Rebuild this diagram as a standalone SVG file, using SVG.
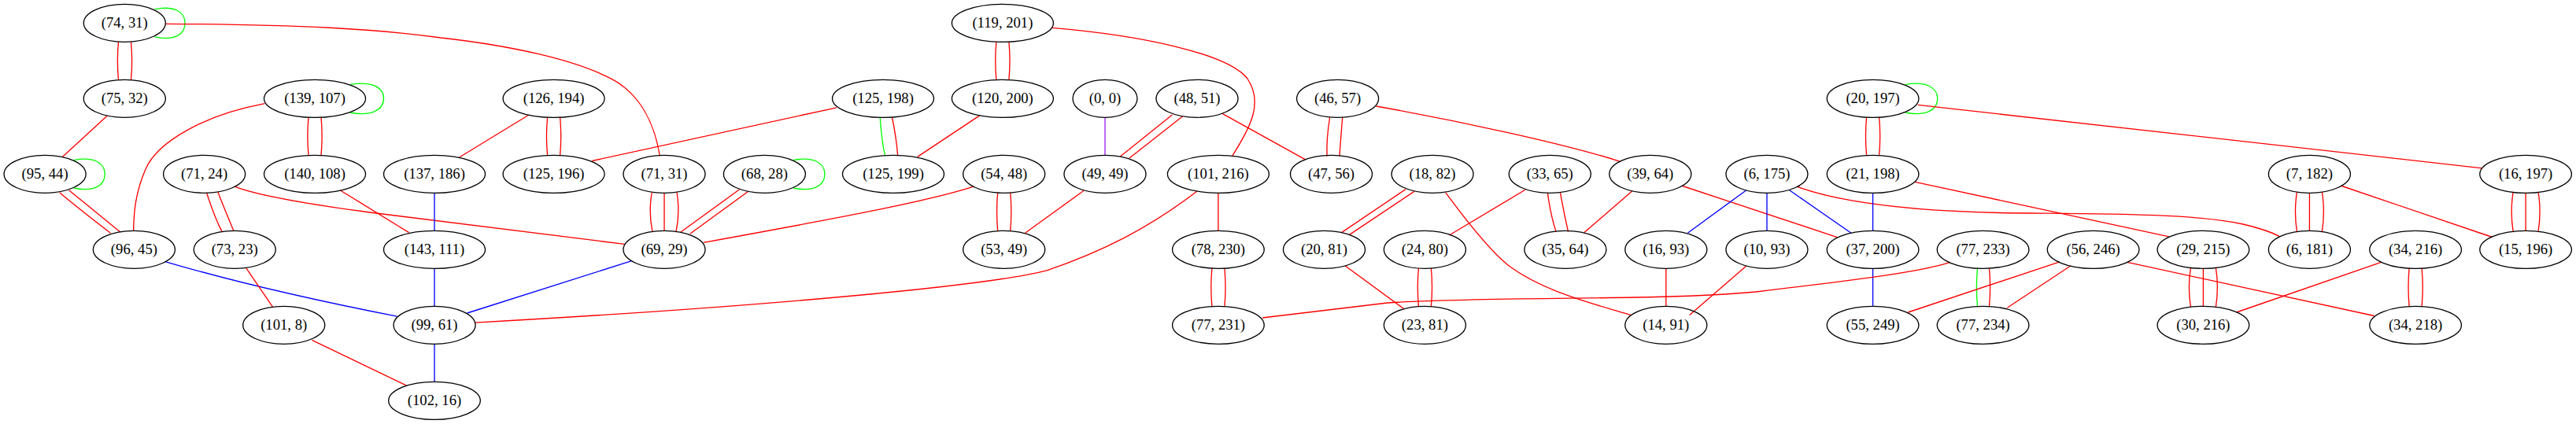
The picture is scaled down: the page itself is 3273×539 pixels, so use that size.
<svg xmlns="http://www.w3.org/2000/svg" width="3273" height="539" viewBox="0 0 3273 539">
<style>
.n ellipse{fill:none;stroke:#000;stroke-width:1.33}
.n text{font-family:"Liberation Serif","Times New Roman",serif;font-size:18.67px;text-anchor:middle;fill:#000}
#edges path{fill:none;stroke-width:1.33}
.r{stroke:#ff0000}.g{stroke:#00ff00}.b{stroke:#0000ff}.p{stroke:#a020f0}
</style>
<rect width="3273" height="539" fill="#fff"/>
<g id="edges">
<!-- self loops -->
<path class="g" d="M196.7,11.7 C220,7 235,14 235,29.3 C235,45 220,52 196.7,46.9"/>
<path class="g" d="M444.6,107.6 C470,103 487.5,110 487.5,125.3 C487.5,141 470,148 444.6,143"/>
<path class="g" d="M93.6,203.6 C118,199 133.2,206 133.2,221.3 C133.2,237 118,244 93.6,239"/>
<path class="g" d="M1007.9,203.6 C1032,199 1047.9,206 1047.9,221.3 C1047.9,237 1032,244 1007.9,239"/>
<path class="g" d="M2420.7,107.6 C2445,103 2461.8,110 2461.8,125.3 C2461.8,141 2445,148 2420.7,143"/>
<!-- vertical doubles -->
<path class="r" d="M150.5,53 C149,69 149,85 150.5,101.6"/>
<path class="r" d="M166.5,53 C168,69 168,85 166.5,101.6"/>
<path class="r" d="M392,149 C390.5,165 390.5,181 392,197.6"/>
<path class="r" d="M408,149 C409.5,165 409.5,181 408,197.6"/>
<path class="r" d="M695.6,149 C694.1,165 694.1,181 695.6,197.6"/>
<path class="r" d="M711.6,149 C713.1,165 713.1,181 711.6,197.6"/>
<path class="r" d="M1265.9,53 C1264.4,69 1264.4,85 1265.9,101.6"/>
<path class="r" d="M1281.9,53 C1283.4,69 1283.4,85 1281.9,101.6"/>
<path class="r" d="M1267.7,245 C1266.2,261 1266.2,277 1267.7,293.6"/>
<path class="r" d="M1283.7,245 C1285.2,261 1285.2,277 1283.7,293.6"/>
<path class="r" d="M1539.9,341 C1538.4,357 1538.4,373 1539.9,389.6"/>
<path class="r" d="M1555.9,341 C1557.4,357 1557.4,373 1555.9,389.6"/>
<path class="r" d="M1802.4,341 C1800.9,357 1800.9,373 1802.4,389.6"/>
<path class="r" d="M1818.4,341 C1819.9,357 1819.9,373 1818.4,389.6"/>
<path class="r" d="M2371.6,149 C2370.1,165 2370.1,181 2371.6,197.6"/>
<path class="r" d="M2387.6,149 C2389.1,165 2389.1,181 2387.6,197.6"/>
<path class="r" d="M3061.1,341 C3059.6,357 3059.6,373 3061.1,389.6"/>
<path class="r" d="M3077.1,341 C3078.6,357 3078.6,373 3077.1,389.6"/>
<path class="r" d="M1689.6,149.5 C1687,165 1685.5,182 1686,198.4"/>
<path class="r" d="M1705.7,149.5 C1704.5,165 1703,182 1702,198.4"/>
<!-- triples -->
<path class="r" d="M828.3,244.5 C825.5,260 825.5,278 829,294.5"/>
<path class="r" d="M844,245.3 L844,293.3"/>
<path class="r" d="M860,244.5 C862.5,260 862.5,278 859,294.5"/>
<path class="r" d="M2918.4,244.2 C2915.9,260 2915.9,278 2918.4,294.4"/>
<path class="r" d="M2934.4,245.3 L2934.4,293.3"/>
<path class="r" d="M2950.4,244.2 C2952.9,260 2952.9,278 2950.4,294.4"/>
<path class="r" d="M3193.1,244.4 C3190.6,260 3190.6,278 3193.1,294.2"/>
<path class="r" d="M3209.1,245.3 L3209.1,293.3"/>
<path class="r" d="M3225.1,244.4 C3227.6,260 3227.6,278 3225.1,294.2"/>
<path class="r" d="M2783.4,340.4 C2780.9,356 2780.9,374 2783.4,390.2"/>
<path class="r" d="M2799.4,341.3 L2799.4,389.3"/>
<path class="r" d="M2815.4,340.4 C2817.9,356 2817.9,374 2815.4,390.2"/>
<!-- diagonal doubles -->
<path class="r" d="M75.7,244.8 C96,262 118,279 140.4,296.3"/>
<path class="r" d="M87.5,241.7 C109,259 131,277 152.9,295"/>
<path class="r" d="M262.5,245 C268,262 274,279 282.1,294.6"/>
<path class="r" d="M276.8,244 C283,260 290,277 297.1,293.9"/>
<path class="r" d="M939.3,241 L865,295"/>
<path class="r" d="M950.7,243.3 L876.7,297.3"/>
<path class="r" d="M1489.3,146 L1423.3,199"/>
<path class="r" d="M1502.7,147.7 L1435,201"/>
<path class="r" d="M1786,240.6 L1704.6,295.6"/>
<path class="r" d="M1796.8,243.4 L1714.6,298.4"/>
<path class="r" d="M1966.4,245.1 C1968.5,262 1972,279 1977.1,294.6"/>
<path class="r" d="M1982.5,245.1 C1985.5,262 1989,279 1992.5,294.6"/>
<!-- mixed pairs -->
<path class="g" d="M1118.2,149.5 C1119.5,167 1121,184 1124.6,197.7"/>
<path class="r" d="M1133.6,149.5 C1137,166 1139.5,183 1140.7,197.7"/>
<path class="g" d="M2512.5,341.2 C2511,357 2511,373 2512.5,389.5"/>
<path class="r" d="M2527.5,341.2 C2529,357 2529,373 2527.5,389.5"/>
<!-- singles -->
<path class="r" d="M210.7,30.3 C380,31 480,37 560,48 C650,58 730,76 775.7,99.7 C815,120 832,160 838.2,197.7"/>
<path class="r" d="M136.4,147 L79.3,199.4"/>
<path class="r" d="M336.4,131.7 C260,146 200,180 185,215 C172,245 170,270 169.6,292.9"/>
<path class="r" d="M298.2,237.2 C325,248 380,258 470,270 L793.6,310.4"/>
<path class="r" d="M432,241.7 L519.6,295.6"/>
<path class="b" d="M552,245.3 L552,293.3"/>
<path class="r" d="M672,146 L583.6,200"/>
<path class="r" d="M1063,136.8 L752.5,204.5"/>
<path class="r" d="M1244.3,147.1 L1165.7,199.4"/>
<path class="r" d="M1337,35.4 C1450,45 1560,68 1585,100 C1605,130 1590,160 1565.7,198.3"/>
<path class="p" d="M1404,149.3 L1404,197.3"/>
<path class="r" d="M1553,144.4 L1658.6,202.8"/>
<path class="r" d="M1237,237.2 C1180,256 1050,280 893.6,308.4"/>
<path class="r" d="M1377.1,242.3 L1302.5,296.3"/>
<path class="b" d="M802.5,331.7 L593.6,398"/>
<path class="b" d="M210.7,332.8 Q330,368 504.3,402.2"/>
<path class="b" d="M552,341.3 L552,389.3"/>
<path class="b" d="M552,437.3 L552,485.3"/>
<path class="r" d="M312.5,340.3 L346.4,390.2"/>
<path class="r" d="M396.4,432.4 L516,489.8"/>
<path class="r" d="M1521,243 C1460,290 1400,320 1330,343.8 C1260,362 1000,388 603.6,410.1"/>
<path class="r" d="M1547.9,245.3 L1547.9,293.3"/>
<path class="r" d="M1748.6,135 C1850,153 1990,183 2059.3,205.6"/>
<path class="r" d="M1836.8,244.8 C1870,290 1895,320 1916,337 C1960,370 2020,385 2071.8,400.5"/>
<path class="r" d="M1937.9,241.3 L1841.4,299"/>
<path class="r" d="M2073.6,243 L2012.9,295.6"/>
<path class="r" d="M2137.9,236.5 L2335,301.8"/>
<path class="r" d="M1709.3,338 L1784.3,393"/>
<path class="b" d="M2218.9,241.7 L2144.3,296.3"/>
<path class="b" d="M2245,245.3 L2245,293.3"/>
<path class="b" d="M2273.6,241.7 L2352,296.3"/>
<path class="r" d="M2283.2,237.2 C2340,258 2430,268 2540,270.5 C2650,272 2780,270 2850,285 Q2880,292 2897,300.8"/>
<path class="r" d="M2116.8,341.3 L2116.8,389.3"/>
<path class="r" d="M2218.9,338 L2146.8,400.5"/>
<path class="r" d="M2436.8,133.4 L3154,213.8"/>
<path class="b" d="M2379.6,245.3 L2379.6,293.3"/>
<path class="r" d="M2433.2,231.4 L2755.9,300.8"/>
<path class="b" d="M2379.6,341.3 L2379.6,389.3"/>
<path class="r" d="M2477.9,333.4 C2440,346 2350,357 2231,371 C2100,383 1900,376 1763,385 L1604,404"/>
<path class="r" d="M2617,332.8 L2424.3,397"/>
<path class="r" d="M2630.7,338 L2550.4,391.2"/>
<path class="r" d="M2702.9,333.4 L3016.6,401.5"/>
<path class="r" d="M2975.5,236.5 L3166.6,301.5"/>
<path class="r" d="M3025.5,333.4 L2841.6,397"/>
</g>
<g id="n74_31" class="n"><ellipse cx="158.3" cy="29.3" rx="52" ry="24"/><text x="158.3" y="34.6">(74, 31)</text></g>
<g id="n119_201" class="n"><ellipse cx="1273.9" cy="29.3" rx="64.5" ry="24"/><text x="1273.9" y="34.6">(119, 201)</text></g>
<g id="n75_32" class="n"><ellipse cx="158.3" cy="125.3" rx="52" ry="24"/><text x="158.3" y="130.6">(75, 32)</text></g>
<g id="n139_107" class="n"><ellipse cx="400" cy="125.3" rx="64.5" ry="24"/><text x="400" y="130.6">(139, 107)</text></g>
<g id="n126_194" class="n"><ellipse cx="703.6" cy="125.3" rx="64.5" ry="24"/><text x="703.6" y="130.6">(126, 194)</text></g>
<g id="n125_198" class="n"><ellipse cx="1122" cy="125.3" rx="64.5" ry="24"/><text x="1122" y="130.6">(125, 198)</text></g>
<g id="n120_200" class="n"><ellipse cx="1273.9" cy="125.3" rx="64.5" ry="24"/><text x="1273.9" y="130.6">(120, 200)</text></g>
<g id="n0_0" class="n"><ellipse cx="1404" cy="125.3" rx="41" ry="24"/><text x="1404" y="130.6">(0, 0)</text></g>
<g id="n48_51" class="n"><ellipse cx="1521" cy="125.3" rx="52" ry="24"/><text x="1521" y="130.6">(48, 51)</text></g>
<g id="n46_57" class="n"><ellipse cx="1699.6" cy="125.3" rx="52" ry="24"/><text x="1699.6" y="130.6">(46, 57)</text></g>
<g id="n20_197" class="n"><ellipse cx="2379.6" cy="125.3" rx="58.3" ry="24"/><text x="2379.6" y="130.6">(20, 197)</text></g>
<g id="n95_44" class="n"><ellipse cx="57.1" cy="221.3" rx="52" ry="24"/><text x="57.1" y="226.6">(95, 44)</text></g>
<g id="n71_24" class="n"><ellipse cx="259.6" cy="221.3" rx="52" ry="24"/><text x="259.6" y="226.6">(71, 24)</text></g>
<g id="n140_108" class="n"><ellipse cx="400" cy="221.3" rx="64.5" ry="24"/><text x="400" y="226.6">(140, 108)</text></g>
<g id="n137_186" class="n"><ellipse cx="552" cy="221.3" rx="64.5" ry="24"/><text x="552" y="226.6">(137, 186)</text></g>
<g id="n125_196" class="n"><ellipse cx="703.6" cy="221.3" rx="64.5" ry="24"/><text x="703.6" y="226.6">(125, 196)</text></g>
<g id="n71_31" class="n"><ellipse cx="844" cy="221.3" rx="52" ry="24"/><text x="844" y="226.6">(71, 31)</text></g>
<g id="n68_28" class="n"><ellipse cx="971.4" cy="221.3" rx="52" ry="24"/><text x="971.4" y="226.6">(68, 28)</text></g>
<g id="n125_199" class="n"><ellipse cx="1135" cy="221.3" rx="64.5" ry="24"/><text x="1135" y="226.6">(125, 199)</text></g>
<g id="n54_48" class="n"><ellipse cx="1275.7" cy="221.3" rx="52" ry="24"/><text x="1275.7" y="226.6">(54, 48)</text></g>
<g id="n49_49" class="n"><ellipse cx="1404" cy="221.3" rx="52" ry="24"/><text x="1404" y="226.6">(49, 49)</text></g>
<g id="n101_216" class="n"><ellipse cx="1547.9" cy="221.3" rx="64.5" ry="24"/><text x="1547.9" y="226.6">(101, 216)</text></g>
<g id="n47_56" class="n"><ellipse cx="1691.5" cy="221.3" rx="52" ry="24"/><text x="1691.5" y="226.6">(47, 56)</text></g>
<g id="n18_82" class="n"><ellipse cx="1820" cy="221.3" rx="52" ry="24"/><text x="1820" y="226.6">(18, 82)</text></g>
<g id="n33_65" class="n"><ellipse cx="1969.3" cy="221.3" rx="52" ry="24"/><text x="1969.3" y="226.6">(33, 65)</text></g>
<g id="n39_64" class="n"><ellipse cx="2096.8" cy="221.3" rx="52" ry="24"/><text x="2096.8" y="226.6">(39, 64)</text></g>
<g id="n6_175" class="n"><ellipse cx="2245" cy="221.3" rx="52" ry="24"/><text x="2245" y="226.6">(6, 175)</text></g>
<g id="n21_198" class="n"><ellipse cx="2379.6" cy="221.3" rx="58.3" ry="24"/><text x="2379.6" y="226.6">(21, 198)</text></g>
<g id="n7_182" class="n"><ellipse cx="2934.4" cy="221.3" rx="52" ry="24"/><text x="2934.4" y="226.6">(7, 182)</text></g>
<g id="n16_197" class="n"><ellipse cx="3209.1" cy="221.3" rx="58.3" ry="24"/><text x="3209.1" y="226.6">(16, 197)</text></g>
<g id="n96_45" class="n"><ellipse cx="170.4" cy="317.3" rx="52" ry="24"/><text x="170.4" y="322.6">(96, 45)</text></g>
<g id="n73_23" class="n"><ellipse cx="298.2" cy="317.3" rx="52" ry="24"/><text x="298.2" y="322.6">(73, 23)</text></g>
<g id="n143_111" class="n"><ellipse cx="552" cy="317.3" rx="64.5" ry="24"/><text x="552" y="322.6">(143, 111)</text></g>
<g id="n69_29" class="n"><ellipse cx="844" cy="317.3" rx="52" ry="24"/><text x="844" y="322.6">(69, 29)</text></g>
<g id="n53_49" class="n"><ellipse cx="1275.7" cy="317.3" rx="52" ry="24"/><text x="1275.7" y="322.6">(53, 49)</text></g>
<g id="n78_230" class="n"><ellipse cx="1547.9" cy="317.3" rx="58.3" ry="24"/><text x="1547.9" y="322.6">(78, 230)</text></g>
<g id="n20_81" class="n"><ellipse cx="1682.5" cy="317.3" rx="52" ry="24"/><text x="1682.5" y="322.6">(20, 81)</text></g>
<g id="n24_80" class="n"><ellipse cx="1810.4" cy="317.3" rx="52" ry="24"/><text x="1810.4" y="322.6">(24, 80)</text></g>
<g id="n35_64" class="n"><ellipse cx="1988.9" cy="317.3" rx="52" ry="24"/><text x="1988.9" y="322.6">(35, 64)</text></g>
<g id="n16_93" class="n"><ellipse cx="2116.8" cy="317.3" rx="52" ry="24"/><text x="2116.8" y="322.6">(16, 93)</text></g>
<g id="n10_93" class="n"><ellipse cx="2245" cy="317.3" rx="52" ry="24"/><text x="2245" y="322.6">(10, 93)</text></g>
<g id="n37_200" class="n"><ellipse cx="2379.6" cy="317.3" rx="58.3" ry="24"/><text x="2379.6" y="322.6">(37, 200)</text></g>
<g id="n77_233" class="n"><ellipse cx="2519.6" cy="317.3" rx="58.3" ry="24"/><text x="2519.6" y="322.6">(77, 233)</text></g>
<g id="n56_246" class="n"><ellipse cx="2659.6" cy="317.3" rx="58.3" ry="24"/><text x="2659.6" y="322.6">(56, 246)</text></g>
<g id="n29_215" class="n"><ellipse cx="2799.4" cy="317.3" rx="58.3" ry="24"/><text x="2799.4" y="322.6">(29, 215)</text></g>
<g id="n6_181" class="n"><ellipse cx="2934.4" cy="317.3" rx="52" ry="24"/><text x="2934.4" y="322.6">(6, 181)</text></g>
<g id="n34_216" class="n"><ellipse cx="3069.1" cy="317.3" rx="58.3" ry="24"/><text x="3069.1" y="322.6">(34, 216)</text></g>
<g id="n15_196" class="n"><ellipse cx="3209.1" cy="317.3" rx="58.3" ry="24"/><text x="3209.1" y="322.6">(15, 196)</text></g>
<g id="n101_8" class="n"><ellipse cx="360.7" cy="413.3" rx="52" ry="24"/><text x="360.7" y="418.6">(101, 8)</text></g>
<g id="n99_61" class="n"><ellipse cx="552" cy="413.3" rx="52" ry="24"/><text x="552" y="418.6">(99, 61)</text></g>
<g id="n77_231" class="n"><ellipse cx="1547.9" cy="413.3" rx="58.3" ry="24"/><text x="1547.9" y="418.6">(77, 231)</text></g>
<g id="n23_81" class="n"><ellipse cx="1810.4" cy="413.3" rx="52" ry="24"/><text x="1810.4" y="418.6">(23, 81)</text></g>
<g id="n14_91" class="n"><ellipse cx="2116.8" cy="413.3" rx="52" ry="24"/><text x="2116.8" y="418.6">(14, 91)</text></g>
<g id="n55_249" class="n"><ellipse cx="2379.6" cy="413.3" rx="58.3" ry="24"/><text x="2379.6" y="418.6">(55, 249)</text></g>
<g id="n77_234" class="n"><ellipse cx="2519.6" cy="413.3" rx="58.3" ry="24"/><text x="2519.6" y="418.6">(77, 234)</text></g>
<g id="n30_216" class="n"><ellipse cx="2799.4" cy="413.3" rx="58.3" ry="24"/><text x="2799.4" y="418.6">(30, 216)</text></g>
<g id="n34_218" class="n"><ellipse cx="3069.1" cy="413.3" rx="58.3" ry="24"/><text x="3069.1" y="418.6">(34, 218)</text></g>
<g id="n102_16" class="n"><ellipse cx="552" cy="509.3" rx="58.3" ry="24"/><text x="552" y="514.6">(102, 16)</text></g>
</svg>
